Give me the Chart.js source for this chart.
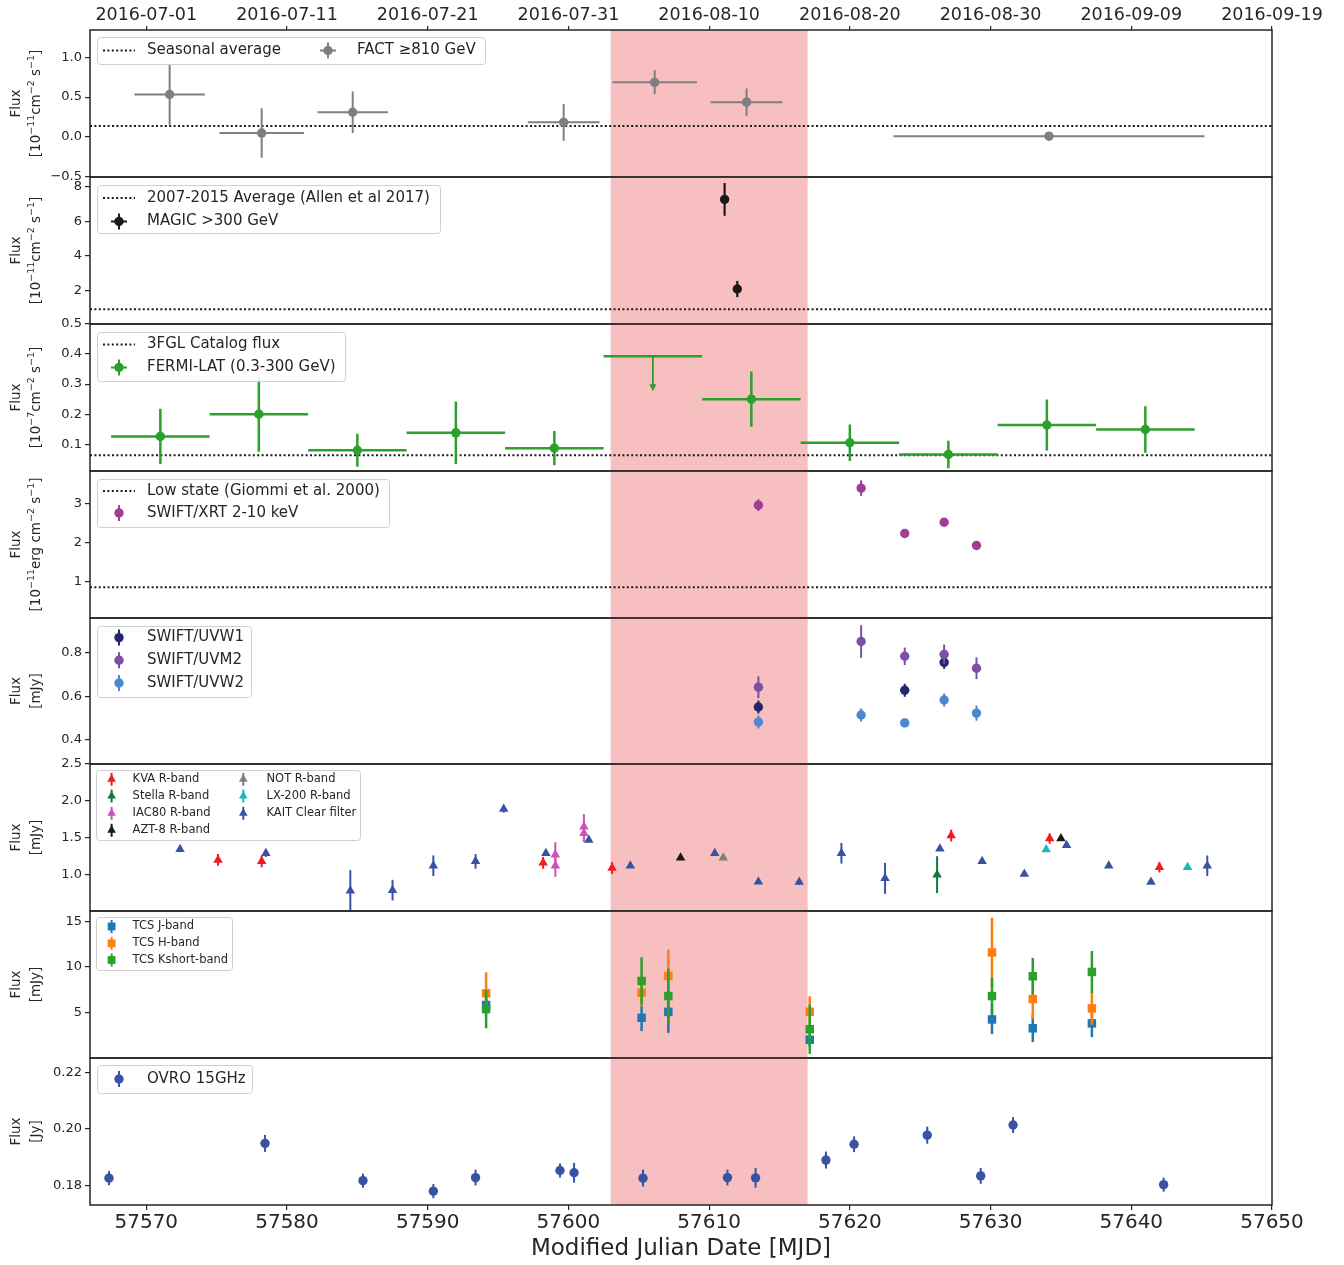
<!DOCTYPE html>
<html>
<head>
<meta charset="utf-8">
<title>Multi-wavelength light curve</title>
<script src="https://cdn.jsdelivr.net/npm/chart.js@4.4.1/dist/chart.umd.min.js"></script>
<style>
  html, body { margin: 0; background: #fff; }
  body { position: relative; width: 1344px; height: 1265px; overflow: hidden; }
  canvas { position: absolute; left: 0; }
</style>
</head>
<body>
<script>
// shared time axis (MJD)
const mjdTicks = [57570, 57580, 57590, 57600, 57610, 57620, 57630, 57640, 57650];
const mjdRange = [57566, 57650];
const flareWindow = [57603, 57617];

// FACT >= 810 GeV
const factMjd = [57571.66, 57578.2, 57584.67, 57599.66, 57606.13, 57612.66, 57634.15];
const factMjdErr = [2.5, 3.0, 2.5, 2.55, 3.0, 2.55, 11.05];
const factFlux = [0.533, 0.05, 0.31, 0.184, 0.685, 0.437, 0.011];
const factFluxErr = [0.38, 0.31, 0.26, 0.23, 0.15, 0.17, 0.04];
const factAverage = 0.137;

// MAGIC > 300 GeV
const magicMjd = [57611.1, 57612.0];
const magicFlux = [7.28, 2.08];
const magicFluxErr = [0.95, 0.47];
const magicAverage = 0.9;

// Fermi-LAT 0.3-300 GeV, weekly bins
const fermiMjd = [57571, 57578, 57585, 57592, 57599, 57613, 57620, 57627, 57634, 57641];
const fermiBinHalf = [3.5, 3.5, 3.5, 3.5, 3.5, 3.5, 3.5, 3.5, 3.5, 3.5];
const fermiFlux = [0.126, 0.2, 0.08, 0.138, 0.087, 0.25, 0.105, 0.066, 0.164, 0.149];
const fermiFluxErr = [0.092, 0.125, 0.055, 0.104, 0.057, 0.092, 0.061, 0.046, 0.085, 0.077];
const fermiUlMjd = [57606];
const fermiUlHalf = [3.5];
const fermiUlFlux = [0.393];
const fermiCatalog = 0.063;

// Swift/XRT 2-10 keV
const xrtMjd = [57613.5, 57620.8, 57623.9, 57626.7, 57629.0];
const xrtFlux = [2.96, 3.40, 2.23, 2.52, 1.92];
const xrtFluxErr = [0.15, 0.2, 0.07, 0.07, 0.04];
const xrtLowState = 0.845;

// Swift/UVOT
const uvw1Mjd = [57613.5, 57623.9, 57626.7];
const uvw1Flux = [0.551, 0.628, 0.756];
const uvw1Err = [0.03, 0.03, 0.03];
const uvm2Mjd = [57613.5, 57620.8, 57623.9, 57626.7, 57629.0];
const uvm2Flux = [0.642, 0.852, 0.784, 0.793, 0.729];
const uvm2Err = [0.05, 0.075, 0.04, 0.045, 0.05];
const uvw2Mjd = [57613.5, 57620.8, 57623.9, 57626.7, 57629.0];
const uvw2Flux = [0.482, 0.514, 0.478, 0.583, 0.523];
const uvw2Err = [0.03, 0.03, 0.02, 0.03, 0.035];

// optical R-band / clear
const kvaMjd = [57575.1, 57578.2, 57598.2, 57603.1, 57627.2, 57634.2, 57642.0];
const kvaFlux = [1.2, 1.18, 1.16, 1.09, 1.53, 1.49, 1.1];
const kvaErr = [0.08, 0.08, 0.08, 0.08, 0.08, 0.07, 0.07];
const stellaMjd = [57626.2];
const stellaFlux = [1.0];
const stellaErr = [0.25];
const iacMjd = [57599.07, 57599.07, 57601.1, 57601.1];
const iacFlux = [1.27, 1.12, 1.65, 1.56];
const iacErr = [0.17, 0.15, 0.17, 0.12];
const aztMjd = [57607.97, 57635.0];
const aztFlux = [1.23, 1.49];
const aztErr = [0.02, 0.03];
const notMjd = [57611.0];
const notFlux = [1.23];
const notErr = [0.02];
const lxMjd = [57633.95, 57644.0];
const lxFlux = [1.34, 1.1];
const lxErr = [0.02, 0.02];
const kaitMjd = [57572.4, 57578.5, 57584.5, 57587.5, 57590.4, 57593.4, 57595.4, 57598.4, 57601.45, 57604.4, 57610.4,
                 57613.5, 57616.4, 57619.4, 57622.5, 57626.4, 57629.4, 57632.4, 57635.4, 57638.4, 57641.4, 57645.4];
const kaitFlux = [1.345, 1.29, 0.78, 0.79, 1.12, 1.18, 1.89, 1.29, 1.47, 1.12, 1.29,
                  0.905, 0.90, 1.29, 0.95, 1.35, 1.18, 1.01, 1.40, 1.12, 0.90, 1.12];
const kaitErr = [0.04, 0.05, 0.28, 0.14, 0.14, 0.1, 0.05, 0.03, 0.03, 0.02, 0.02,
                 0.02, 0.04, 0.14, 0.21, 0.02, 0.02, 0.02, 0.02, 0.02, 0.02, 0.14];

// TCS near infrared
const tcsMjd = [57594.15, 57605.2, 57607.1, 57617.15, 57630.1, 57633.0, 57637.2];
const tcsJ = [5.85, 4.45, 5.1, 2.05, 4.27, 3.3, 3.84];
const tcsJErr = [0.8, 1.45, 2.3, 0.8, 1.6, 1.5, 1.5];
const tcsH = [7.13, 7.2, 9.03, 5.11, 11.6, 6.5, 5.48];
const tcsHErr = [2.3, 1.5, 2.9, 1.7, 3.8, 2.2, 1.8];
const tcsK = [5.4, 8.48, 6.83, 3.2, 6.83, 9.0, 9.47];
const tcsKErr = [2.1, 2.6, 3.0, 2.7, 2.0, 2.0, 2.3];

// OVRO 15 GHz
const ovroMjd = [57567.35, 57578.44, 57585.4, 57590.4, 57593.4, 57599.4, 57600.4, 57605.3,
                 57611.3, 57613.3, 57618.3, 57620.3, 57625.5, 57629.3, 57631.6, 57642.3];
const ovroFlux = [0.1826, 0.1949, 0.1817, 0.178, 0.1828, 0.1853, 0.1845, 0.1826,
                  0.1828, 0.1827, 0.189, 0.1946, 0.1978, 0.1834, 0.2014, 0.1803];
const ovroErr = [0.0025, 0.003, 0.0025, 0.0025, 0.0028, 0.0025, 0.0035, 0.003,
                 0.0028, 0.0035, 0.003, 0.0028, 0.003, 0.0028, 0.0028, 0.0025];

// y axis ticks per panel
const factTicks = [-0.5, 0, 0.5, 1.0];
const magicTicks = [2, 4, 6, 8];
const fermiTicks = [0.1, 0.2, 0.3, 0.4, 0.5];
const xrtTicks = [1, 2, 3];
const uvTicks = [0.4, 0.6, 0.8];
const optTicks = [1.0, 1.5, 2.0, 2.5];
const tcsTicks = [5, 10, 15];
const ovroTicks = [0.18, 0.20, 0.22];

// layout
const EDGES = [30, 177, 324, 471, 618, 764, 911, 1058, 1205];
const PAD = 20;
const INK = '#262626';
const GREY = '#7f7f7f', BLACK = '#1a1a1a', GREEN = '#2ca02c', XRT = '#a23c97';
const UVW1 = '#24256b', UVM2 = '#7b4fa6', UVW2 = '#4c88cf';
const KVA = '#ee1d23', STELLA = '#0f7a3a', IAC = '#cc52b4', AZT = '#1a1a1a', NOT = '#808080', LX = '#1fb5bd', KAIT = '#3953a4';
const TJ = '#1f77b4', TH = '#ff7f0e', TK = '#2ca02c';

Chart.defaults.font.family = '"DejaVu Sans", sans-serif';
Chart.defaults.color = INK;

function pts(xs, ys) { return xs.map((x, i) => ({x: x, y: ys[i]})); }

function errSeries(xs, ys, yErr, color, style, more) {
  return Object.assign({
    data: pts(xs, ys), yErr: yErr, errColor: color, errWidth: 2,
    pointStyle: style || 'circle', pointRadius: 4.7, pointHoverRadius: 4.7,
    backgroundColor: color, borderColor: color, borderWidth: 0
  }, more || {});
}

function refLine(v) {
  return {
    data: [{x: mjdRange[0], y: v}, {x: mjdRange[1], y: v}], showLine: true, order: 5,
    borderColor: '#1a1a1a', borderWidth: 2, borderDash: [2, 2.4], pointRadius: 0, pointHoverRadius: 0
  };
}

function mjdToDate(m) {
  return new Date((m - 40587) * 86400000).toISOString().slice(0, 10);
}

function fmt(v, d) {
  return (v < 0 ? '\u2212' : '') + Math.abs(v).toFixed(d);
}

function drawMarker(ctx, style, r, x, y) {
  ctx.beginPath();
  if (style === 'triangle') {
    let a = 0;
    for (let k = 0; k < 3; k++) {
      ctx.lineTo(x + Math.sin(a) * r, y - Math.cos(a) * r);
      a += Math.PI * 2 / 3;
    }
    ctx.closePath();
  } else if (style === 'rect') {
    const s = r * Math.SQRT1_2;
    ctx.rect(x - s, y - s, 2 * s, 2 * s);
  } else {
    ctx.arc(x, y, r, 0, Math.PI * 2);
  }
  ctx.fill();
}

// rotated axis label with ^{...} superscripts
function drawRotated(ctx, str, cx, cy, size) {
  const parts = [];
  const re = /\^\{([^}]*)\}/g;
  let last = 0, m;
  while ((m = re.exec(str))) {
    if (m.index > last) parts.push({t: str.slice(last, m.index), sup: false});
    parts.push({t: m[1], sup: true});
    last = re.lastIndex;
  }
  if (last < str.length) parts.push({t: str.slice(last), sup: false});
  const fontOf = sup => (sup ? size * 0.7 : size) + 'px "DejaVu Sans"';
  let total = 0;
  parts.forEach(p => { ctx.font = fontOf(p.sup); p.w = ctx.measureText(p.t).width; total += p.w; });
  ctx.save();
  ctx.translate(cx, cy);
  ctx.rotate(-Math.PI / 2);
  ctx.fillStyle = INK;
  ctx.textBaseline = 'alphabetic';
  const base = size * 0.365;
  let x = -total / 2;
  parts.forEach(p => {
    ctx.font = fontOf(p.sup);
    ctx.fillText(p.t, x, p.sup ? base - size * 0.45 : base);
    x += p.w;
  });
  ctx.restore();
}

function drawLegend(chart, lg) {
  const {ctx, chartArea: a} = chart;
  const bx = a.left + lg.box[0], by = a.top + lg.box[1], bw = lg.box[2], bh = lg.box[3];
  ctx.save();
  ctx.beginPath();
  ctx.roundRect(bx + 0.5, by + 0.5, bw, bh, 3);
  ctx.fillStyle = 'rgba(255,255,255,0.85)';
  ctx.fill();
  ctx.strokeStyle = '#d0d0d0';
  ctx.lineWidth = 1;
  ctx.stroke();
  ctx.font = lg.size + 'px "DejaVu Sans"';
  ctx.textBaseline = 'middle';
  lg.items.forEach(it => {
    const hx = bx + it.hx, cy = by + it.ry;
    const e = lg.err || 8;
    if (it.kind === 'line') {
      ctx.strokeStyle = '#1a1a1a';
      ctx.lineWidth = 2;
      ctx.setLineDash([2, 2.4]);
      ctx.beginPath();
      ctx.moveTo(hx - 16, cy);
      ctx.lineTo(hx + 16, cy);
      ctx.stroke();
      ctx.setLineDash([]);
    } else {
      ctx.strokeStyle = it.color;
      ctx.lineWidth = 2;
      ctx.beginPath();
      ctx.moveTo(hx, cy - e);
      ctx.lineTo(hx, cy + e);
      if (it.xbar) {
        ctx.moveTo(hx - e, cy);
        ctx.lineTo(hx + e, cy);
      }
      ctx.stroke();
      ctx.fillStyle = it.color;
      drawMarker(ctx, it.style || 'circle', it.r || 4.7, hx, cy);
    }
    ctx.fillStyle = INK;
    ctx.fillText(it.label, bx + it.tx, cy);
  });
  ctx.restore();
}

function panelPlugin(p) {
  return {
    id: 'panelDeco',
    beforeDatasetsDraw(chart) {
      const {ctx, chartArea: a, scales: {x}} = chart;
      const l = x.getPixelForValue(flareWindow[0]), r = x.getPixelForValue(flareWindow[1]);
      ctx.save();
      ctx.fillStyle = 'rgba(240,128,128,0.5)';
      ctx.fillRect(l, a.top, r - l, a.bottom - a.top);
      ctx.restore();
    },
    beforeDatasetDraw(chart, args) {
      const ds = chart.data.datasets[args.index];
      if (!ds.yErr && !ds.xErr) return;
      const {ctx, chartArea: a, scales: {x, y}} = chart;
      ctx.save();
      ctx.beginPath();
      ctx.rect(a.left, a.top, a.right - a.left, a.bottom - a.top);
      ctx.clip();
      ctx.strokeStyle = ds.errColor;
      ctx.lineWidth = ds.errWidth;
      ds.data.forEach((pt, i) => {
        const px = x.getPixelForValue(pt.x), py = y.getPixelForValue(pt.y);
        ctx.beginPath();
        if (ds.yErr) {
          ctx.moveTo(px, y.getPixelForValue(pt.y - ds.yErr[i]));
          ctx.lineTo(px, y.getPixelForValue(pt.y + ds.yErr[i]));
        }
        if (ds.xErr) {
          ctx.moveTo(x.getPixelForValue(pt.x - ds.xErr[i]), py);
          ctx.lineTo(x.getPixelForValue(pt.x + ds.xErr[i]), py);
        }
        ctx.stroke();
        if (ds.upperLimit) {
          // downward arrow from the limit
          ctx.beginPath();
          ctx.moveTo(px, py);
          ctx.lineTo(px, py + 30);
          ctx.lineWidth = 1.8;
          ctx.stroke();
          ctx.beginPath();
          ctx.moveTo(px - 3.5, py + 28);
          ctx.lineTo(px + 3.5, py + 28);
          ctx.lineTo(px, py + 35);
          ctx.closePath();
          ctx.fillStyle = ds.errColor;
          ctx.fill();
        }
      });
      ctx.restore();
    },
    afterDraw(chart) {
      const {ctx, chartArea: a} = chart;
      ctx.save();
      ctx.strokeStyle = INK;
      ctx.lineWidth = 1.5;
      ctx.strokeRect(a.left, a.top, a.right - a.left, a.bottom - a.top);
      ctx.restore();
      const cy = (a.top + a.bottom) / 2;
      drawRotated(ctx, p.yTitle[0], 15, cy, 13.5);
      drawRotated(ctx, p.yTitle[1], 35, cy, 13.5);
      if (p.legend) drawLegend(chart, p.legend);
    }
  };
}

function makePanel(i, p) {
  const top = EDGES[i], bottom = EDGES[i + 1];
  const first = i === 0, last = i === EDGES.length - 2;
  const cTop = first ? 0 : top - PAD;
  const cBottom = last ? 1265 : bottom + PAD;
  const canvas = document.createElement('canvas');
  canvas.width = 1344;
  canvas.height = cBottom - cTop;
  canvas.style.top = cTop + 'px';
  document.body.appendChild(canvas);

  const scales = {
    x: {
      type: 'linear', position: 'bottom', min: mjdRange[0], max: mjdRange[1], display: last,
      afterBuildTicks: s => { s.ticks = mjdTicks.map(v => ({value: v})); },
      afterFit: s => { if (last) s.height = cBottom - bottom; },
      ticks: { font: {size: 20, lineHeight: 1.1}, color: INK, padding: 2, maxRotation: 0, autoSkip: false, callback: v => String(v) },
      grid: { drawOnChartArea: false, tickLength: 5, color: INK, lineWidth: 1.2 },
      border: { display: false },
      title: { display: true, text: 'Modified Julian Date [MJD]', color: INK, font: {size: 23}, padding: {top: 0, bottom: 2} }
    },
    y: {
      type: 'linear', min: p.yMin, max: p.yMax,
      afterBuildTicks: s => { s.ticks = p.yTicks.map(v => ({value: v})); },
      afterFit: s => { s.width = 90; },
      ticks: { font: {size: 13}, color: INK, padding: 3, callback: v => fmt(v, p.yDigits) },
      grid: { drawOnChartArea: false, tickLength: 5, color: INK, lineWidth: 1.2 },
      border: { display: false },
      title: { display: false }
    }
  };
  if (first) {
    scales.xTop = {
      type: 'linear', position: 'top', min: mjdRange[0], max: mjdRange[1],
      afterBuildTicks: s => { s.ticks = mjdTicks.map(v => ({value: v})); },
      afterFit: s => { s.height = top; },
      ticks: { font: {size: 17.5, lineHeight: 1.1}, color: INK, padding: 1, maxRotation: 0, autoSkip: false, callback: v => mjdToDate(v) },
      grid: { drawOnChartArea: false, tickLength: 4, color: INK, lineWidth: 1.2 },
      border: { display: false }
    };
  }

  new Chart(canvas, {
    type: 'scatter',
    data: { datasets: p.datasets },
    options: {
      responsive: false, animation: false, events: [], devicePixelRatio: 1,
      layout: { padding: { left: 0, right: 1344 - 1272, top: first ? 0 : top - cTop, bottom: last ? 0 : cBottom - bottom } },
      plugins: { legend: { display: false }, tooltip: { enabled: false } },
      scales: scales
    },
    plugins: [panelPlugin(p)]
  });
}

const TITLE_GEV = ['Flux', '[10^{\u221211}cm^{\u22122} s^{\u22121}]'];

// 1: FACT
makePanel(0, {
  yMin: -0.5, yMax: 1.34, yTicks: factTicks, yDigits: 1, yTitle: TITLE_GEV,
  datasets: [
    refLine(factAverage),
    errSeries(factMjd, factFlux, factFluxErr, GREY, 'circle', {xErr: factMjdErr})
  ],
  legend: { box: [7, 7, 388, 27], size: 15, items: [
    {kind: 'line', hx: 22, tx: 50, ry: 13.5, label: 'Seasonal average'},
    {kind: 'marker', color: GREY, xbar: true, hx: 231, tx: 260, ry: 13.5, label: 'FACT \u2265810 GeV'}
  ]}
});

// 2: MAGIC
makePanel(1, {
  yMin: 0.05, yMax: 8.58, yTicks: magicTicks, yDigits: 0, yTitle: TITLE_GEV,
  datasets: [
    refLine(magicAverage),
    errSeries(magicMjd, magicFlux, magicFluxErr, BLACK, 'circle', {errWidth: 2.2})
  ],
  legend: { box: [7, 8, 343, 48], size: 15, items: [
    {kind: 'line', hx: 22, tx: 50, ry: 13, label: '2007-2015 Average (Allen et al 2017)'},
    {kind: 'marker', color: BLACK, xbar: true, hx: 22, tx: 50, ry: 36.5, label: 'MAGIC >300 GeV'}
  ]}
});

// 3: Fermi-LAT
makePanel(2, {
  yMin: 0.011, yMax: 0.5, yTicks: fermiTicks, yDigits: 1, yTitle: ['Flux', '[10^{\u22127}cm^{\u22122} s^{\u22121}]'],
  datasets: [
    refLine(fermiCatalog),
    errSeries(fermiMjd, fermiFlux, fermiFluxErr, GREEN, 'circle', {xErr: fermiBinHalf, errWidth: 2.5}),
    errSeries(fermiUlMjd, fermiUlFlux, null, GREEN, 'circle', {xErr: fermiUlHalf, errWidth: 2.5, pointRadius: 0, upperLimit: true})
  ],
  legend: { box: [7, 8, 248, 49], size: 15, items: [
    {kind: 'line', hx: 22, tx: 50, ry: 12.5, label: '3FGL Catalog flux'},
    {kind: 'marker', color: GREEN, xbar: true, hx: 22, tx: 50, ry: 35.5, label: 'FERMI-LAT (0.3-300 GeV)'}
  ]}
});

// 4: Swift/XRT
makePanel(3, {
  yMin: 0.054, yMax: 3.84, yTicks: xrtTicks, yDigits: 0, yTitle: ['Flux', '[10^{\u221211}erg cm^{\u22122} s^{\u22121}]'],
  datasets: [
    refLine(xrtLowState),
    errSeries(xrtMjd, xrtFlux, xrtFluxErr, XRT)
  ],
  legend: { box: [7, 8, 292, 48], size: 15, items: [
    {kind: 'line', hx: 22, tx: 50, ry: 12, label: 'Low state (Giommi et al. 2000)'},
    {kind: 'marker', color: XRT, hx: 22, tx: 50, ry: 34, label: 'SWIFT/XRT 2-10 keV'}
  ]}
});

// 5: Swift/UVOT
makePanel(4, {
  yMin: 0.289, yMax: 0.96, yTicks: uvTicks, yDigits: 1, yTitle: ['Flux', '[mJy]'],
  datasets: [
    errSeries(uvw1Mjd, uvw1Flux, uvw1Err, UVW1, 'circle', {order: -1}),
    errSeries(uvm2Mjd, uvm2Flux, uvm2Err, UVM2, 'circle', {order: -2}),
    errSeries(uvw2Mjd, uvw2Flux, uvw2Err, UVW2, 'circle', {order: -3})
  ],
  legend: { box: [7, 8, 154, 71], size: 15, items: [
    {kind: 'marker', color: UVW1, hx: 22, tx: 50, ry: 11.6, label: 'SWIFT/UVW1'},
    {kind: 'marker', color: UVM2, hx: 22, tx: 50, ry: 34.3, label: 'SWIFT/UVM2'},
    {kind: 'marker', color: UVW2, hx: 22, tx: 50, ry: 57, label: 'SWIFT/UVW2'}
  ]}
});

// 6: optical
const tri = {pointRadius: 5.5, pointHoverRadius: 5.5};
makePanel(5, {
  yMin: 0.507, yMax: 2.5, yTicks: optTicks, yDigits: 1, yTitle: ['Flux', '[mJy]'],
  datasets: [
    errSeries(kvaMjd, kvaFlux, kvaErr, KVA, 'triangle', Object.assign({order: -1}, tri)),
    errSeries(stellaMjd, stellaFlux, stellaErr, STELLA, 'triangle', Object.assign({order: -2}, tri)),
    errSeries(iacMjd, iacFlux, iacErr, IAC, 'triangle', Object.assign({order: -3}, tri)),
    errSeries(aztMjd, aztFlux, aztErr, AZT, 'triangle', Object.assign({order: -4}, tri)),
    errSeries(notMjd, notFlux, notErr, NOT, 'triangle', Object.assign({order: -5}, tri)),
    errSeries(lxMjd, lxFlux, lxErr, LX, 'triangle', Object.assign({order: -6}, tri)),
    errSeries(kaitMjd, kaitFlux, kaitErr, KAIT, 'triangle', Object.assign({order: -7}, tri))
  ],
  legend: { box: [6, 6, 264, 70], size: 11.5, err: 6.5, items: [
    {kind: 'marker', color: KVA, style: 'triangle', r: 5, hx: 15.6, tx: 36.6, ry: 9.3, label: 'KVA R-band'},
    {kind: 'marker', color: STELLA, style: 'triangle', r: 5, hx: 15.6, tx: 36.6, ry: 26, label: 'Stella R-band'},
    {kind: 'marker', color: IAC, style: 'triangle', r: 5, hx: 15.6, tx: 36.6, ry: 43.3, label: 'IAC80 R-band'},
    {kind: 'marker', color: AZT, style: 'triangle', r: 5, hx: 15.6, tx: 36.6, ry: 60.3, label: 'AZT-8 R-band'},
    {kind: 'marker', color: NOT, style: 'triangle', r: 5, hx: 147.3, tx: 170.5, ry: 9.3, label: 'NOT R-band'},
    {kind: 'marker', color: LX, style: 'triangle', r: 5, hx: 147.3, tx: 170.5, ry: 26, label: 'LX-200 R-band'},
    {kind: 'marker', color: KAIT, style: 'triangle', r: 5, hx: 147.3, tx: 170.5, ry: 43.3, label: 'KAIT Clear filter'}
  ]}
});

// 7: TCS near infrared
const sq = {pointRadius: 6, pointHoverRadius: 6, errWidth: 2.5};
makePanel(6, {
  yMin: 0.05, yMax: 16.14, yTicks: tcsTicks, yDigits: 0, yTitle: ['Flux', '[mJy]'],
  datasets: [
    errSeries(tcsMjd, tcsJ, tcsJErr, TJ, 'rect', Object.assign({order: 3}, sq)),
    errSeries(tcsMjd, tcsH, tcsHErr, TH, 'rect', Object.assign({order: 2}, sq)),
    errSeries(tcsMjd, tcsK, tcsKErr, TK, 'rect', Object.assign({order: 1}, sq))
  ],
  legend: { box: [6, 6, 136, 53], size: 11.5, err: 6.5, items: [
    {kind: 'marker', color: TJ, style: 'rect', r: 5.5, hx: 15.6, tx: 36.6, ry: 9.5, label: 'TCS J-band'},
    {kind: 'marker', color: TH, style: 'rect', r: 5.5, hx: 15.6, tx: 36.6, ry: 26.3, label: 'TCS H-band'},
    {kind: 'marker', color: TK, style: 'rect', r: 5.5, hx: 15.6, tx: 36.6, ry: 43, label: 'TCS Kshort-band'}
  ]}
});

// 8: OVRO
makePanel(7, {
  yMin: 0.1731, yMax: 0.2251, yTicks: ovroTicks, yDigits: 2, yTitle: ['Flux', '[Jy]'],
  datasets: [
    errSeries(ovroMjd, ovroFlux, ovroErr, KAIT)
  ],
  legend: { box: [7, 7, 155, 28], size: 15, items: [
    {kind: 'marker', color: KAIT, hx: 22, tx: 50, ry: 14, label: 'OVRO 15GHz'}
  ]}
});
</script>
</body>
</html>
